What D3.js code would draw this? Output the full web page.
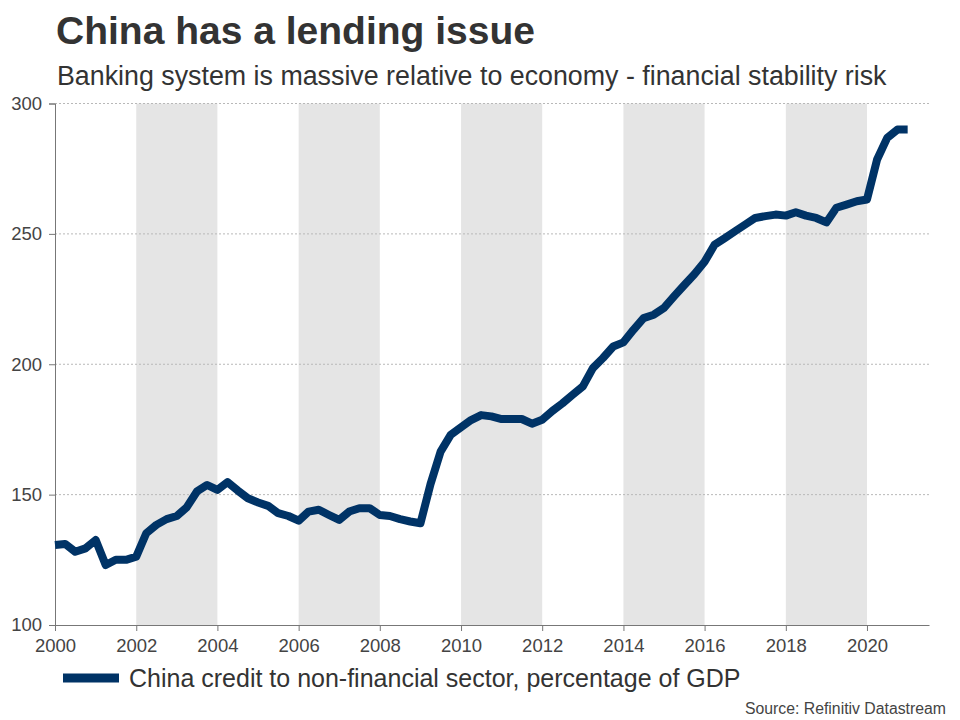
<!DOCTYPE html>
<html>
<head>
<meta charset="utf-8">
<script src="https://cdn.jsdelivr.net/npm/d3@7"></script>
<style>
  body { margin: 0; background: #fff; }
  svg { display: block; font-family: "Liberation Sans", Arial, sans-serif; }
</style>
</head>
<body>
<div id="chart"></div>
<script>
// quarterly observations, 2000Q1 .. 2021Q1
const quarters = [
  '2000-01','2000-04','2000-07','2000-10','2001-01','2001-04','2001-07','2001-10',
  '2002-01','2002-04','2002-07','2002-10','2003-01','2003-04','2003-07','2003-10',
  '2004-01','2004-04','2004-07','2004-10','2005-01','2005-04','2005-07','2005-10',
  '2006-01','2006-04','2006-07','2006-10','2007-01','2007-04','2007-07','2007-10',
  '2008-01','2008-04','2008-07','2008-10','2009-01','2009-04','2009-07','2009-10',
  '2010-01','2010-04','2010-07','2010-10','2011-01','2011-04','2011-07','2011-10',
  '2012-01','2012-04','2012-07','2012-10','2013-01','2013-04','2013-07','2013-10',
  '2014-01','2014-04','2014-07','2014-10','2015-01','2015-04','2015-07','2015-10',
  '2016-01','2016-04','2016-07','2016-10','2017-01','2017-04','2017-07','2017-10',
  '2018-01','2018-04','2018-07','2018-10','2019-01','2019-04','2019-07','2019-10',
  '2020-01','2020-04','2020-07','2020-10','2021-01'
];

const creditPctGdp = [
  130.7, 131.1, 128.1, 129.4, 132.6, 123.0, 125.0, 125.0,
  126.2, 135.2, 138.4, 140.6, 141.8, 145.2, 151.2, 153.7,
  151.8, 154.8, 151.6, 148.6, 147.0, 145.7, 142.9, 141.8,
  140.0, 143.5, 144.2, 142.2, 140.3, 143.5, 144.8, 144.8,
  142.2, 141.8, 140.6, 139.7, 139.0, 154.0, 166.5, 173.0,
  175.8, 178.6, 180.5, 180.0, 179.0, 179.0, 179.0, 177.2,
  178.7, 182.1, 185.0, 188.3, 191.5, 198.5, 202.4, 206.8,
  208.4, 213.2, 217.7, 219.0, 221.6, 226.0, 230.3, 234.5,
  239.3, 245.9, 248.4, 251.0, 253.6, 256.1, 256.8, 257.4,
  257.0, 258.3, 257.0, 256.1, 254.4, 260.0, 261.2, 262.5,
  263.2, 278.5, 286.8, 290.0, 290.0
];

// shaded alternate two-year bands
const bandStarts = [2002, 2006, 2010, 2014, 2018];
const xTickYears = [2000, 2002, 2004, 2006, 2008, 2010, 2012, 2014, 2016, 2018, 2020];
const yTicks = [100, 150, 200, 250, 300];

const title = 'China has a lending issue';
const subtitle = 'Banking system is massive relative to economy - financial stability risk';
const legendLabel = 'China credit to non-financial sector, percentage of GDP';
const source = 'Source: Refinitiv Datastream';

const width = 960;
const height = 720;
const plot = { left: 55, right: 929, top: 103.5, bottom: 625 };
const lineColor = '#003366';
const textColor = '#444';

const parse = d3.timeParse('%Y-%m');
const series = quarters.map((q, i) => ({ date: parse(q), value: creditPctGdp[i] }));

const svg = d3.select('#chart')
    .append('svg')
    .attr('width', width)
    .attr('height', height);

const x = d3.scaleTime()
    .domain([new Date(2000, 0, 1), new Date(2021, 6, 12)])
    .range([plot.left, plot.right]);

const y = d3.scaleLinear()
    .domain([100, 300])
    .range([plot.bottom, plot.top]);

// bands
svg.append('g')
    .selectAll('rect')
    .data(bandStarts)
    .enter()
    .append('rect')
    .attr('x', d => x(new Date(d, 0, 1)))
    .attr('width', d => x(new Date(d + 2, 0, 1)) - x(new Date(d, 0, 1)))
    .attr('y', plot.top)
    .attr('height', plot.bottom - plot.top)
    .attr('fill', '#e5e5e5');

// dotted gridlines
svg.append('g')
    .selectAll('line')
    .data(yTicks.filter(d => d > 100))
    .enter()
    .append('line')
    .attr('x1', plot.left)
    .attr('x2', plot.right)
    .attr('y1', d => y(d))
    .attr('y2', d => y(d))
    .attr('stroke', '#b8b8b8')
    .attr('stroke-width', 1)
    .attr('stroke-dasharray', '2,2');

// y axis
const yAxis = svg.append('g')
    .attr('transform', `translate(${plot.left},0)`)
    .call(d3.axisLeft(y).tickValues(yTicks).tickSize(6).tickPadding(7));
yAxis.select('.domain').attr('stroke', '#777');
yAxis.selectAll('.tick line').attr('stroke', '#777');
yAxis.selectAll('.tick text')
    .attr('fill', textColor)
    .style('font-size', '18.5px')
    .style('font-family', '"Liberation Sans", Arial, sans-serif');

// x axis
const xAxis = svg.append('g')
    .attr('transform', `translate(0,${plot.bottom})`)
    .call(d3.axisBottom(x)
        .tickValues(xTickYears.map(yr => new Date(yr, 0, 1)))
        .tickFormat(d3.timeFormat('%Y'))
        .tickSize(6)
        .tickPadding(8)
        .tickSizeOuter(0));
xAxis.select('.domain').attr('stroke', '#777');
xAxis.selectAll('.tick line').attr('stroke', '#777');
xAxis.selectAll('.tick text')
    .attr('fill', textColor)
    .style('font-size', '18.5px')
    .style('font-family', '"Liberation Sans", Arial, sans-serif');

// the series
const line = d3.line()
    .x(d => x(d.date))
    .y(d => y(d.value));

svg.append('path')
    .datum(series)
    .attr('d', line)
    .attr('fill', 'none')
    .attr('stroke', lineColor)
    .attr('stroke-width', 8)
    .attr('stroke-linejoin', 'round')
    .attr('stroke-linecap', 'butt');

// titles
svg.append('text')
    .attr('x', 56)
    .attr('y', 44)
    .attr('fill', '#333')
    .style('font-size', '39px')
    .style('font-weight', 'bold')
    .text(title);

svg.append('text')
    .attr('x', 57)
    .attr('y', 85)
    .attr('fill', '#333')
    .style('font-size', '26.8px')
    .text(subtitle);

// legend
svg.append('line')
    .attr('x1', 63)
    .attr('x2', 119)
    .attr('y1', 678)
    .attr('y2', 678)
    .attr('stroke', lineColor)
    .attr('stroke-width', 9);

svg.append('text')
    .attr('x', 129)
    .attr('y', 686.5)
    .attr('fill', '#333')
    .style('font-size', '25px')
    .text(legendLabel);

svg.append('text')
    .attr('x', 946)
    .attr('y', 714)
    .attr('text-anchor', 'end')
    .attr('fill', textColor)
    .style('font-size', '15.8px')
    .text(source);
</script>
</body>
</html>
